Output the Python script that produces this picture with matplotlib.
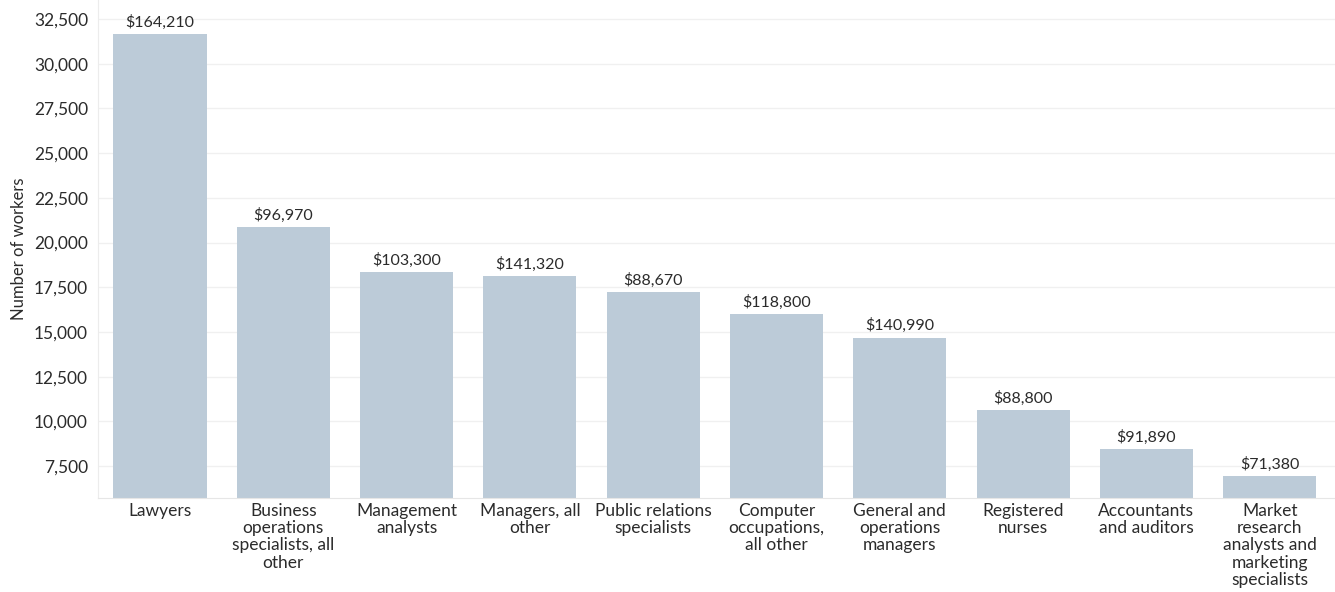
import matplotlib.pyplot as plt
from matplotlib.ticker import FuncFormatter, FixedLocator

plt.rcParams['font.family'] = ['Lato', 'DejaVu Sans']

# Occupations, headcount and median annual wage
occupations = [
    "Lawyers",
    "Business\noperations\nspecialists, all\nother",
    "Management\nanalysts",
    "Managers, all\nother",
    "Public relations\nspecialists",
    "Computer\noccupations,\nall other",
    "General and\noperations\nmanagers",
    "Registered\nnurses",
    "Accountants\nand auditors",
    "Market\nresearch\nanalysts and\nmarketing\nspecialists",
]
workers = [31650, 20890, 18360, 18150, 17250, 16030, 14690, 10630, 8470, 6960]
wages = [164210, 96970, 103300, 141320, 88670, 118800, 140990, 88800, 91890, 71380]
y_ticks = [7500, 10000, 12500, 15000, 17500, 20000, 22500, 25000, 27500, 30000, 32500]

bar_color = "#bccbd8"
text_color = "#2b2b2b"

fig = plt.figure(figsize=(13.35, 5.92), dpi=100)
ax = fig.add_axes([0.0732, 0.158, 0.9268, 0.842])

x = range(len(occupations))
bars = ax.bar(x, workers, width=0.755, color=bar_color, zorder=2)

for b, w in zip(bars, wages):
    ax.annotate(f"${w:,}", (b.get_x() + b.get_width() / 2, b.get_height()),
                xytext=(0, 3), textcoords="offset points",
                ha="center", va="bottom", fontsize=11.5, color=text_color)

ax.set_xlim(-0.505, 9.53)
ax.set_ylim(5690, 33565)
ax.yaxis.set_major_locator(FixedLocator(y_ticks))
ax.yaxis.set_major_formatter(FuncFormatter(lambda v, p: f"{int(v):,}"))
ax.set_xticks(list(x))
ax.set_xticklabels(occupations, fontsize=12.5, color=text_color, linespacing=1.1)

ax.tick_params(axis="y", length=0, labelsize=12.5, labelcolor=text_color, pad=7)
ax.tick_params(axis="x", length=0, pad=3)

ax.grid(axis="y", color="#f0f0f0", linewidth=1, zorder=0)
for side in ["top", "right"]:
    ax.spines[side].set_visible(False)
ax.spines["left"].set_color("#ececec")
ax.spines["bottom"].set_color("#e6e6e6")

ax.set_ylabel("Number of workers", fontsize=12, color=text_color, labelpad=5)

fig.savefig("out.png", dpi=100)
